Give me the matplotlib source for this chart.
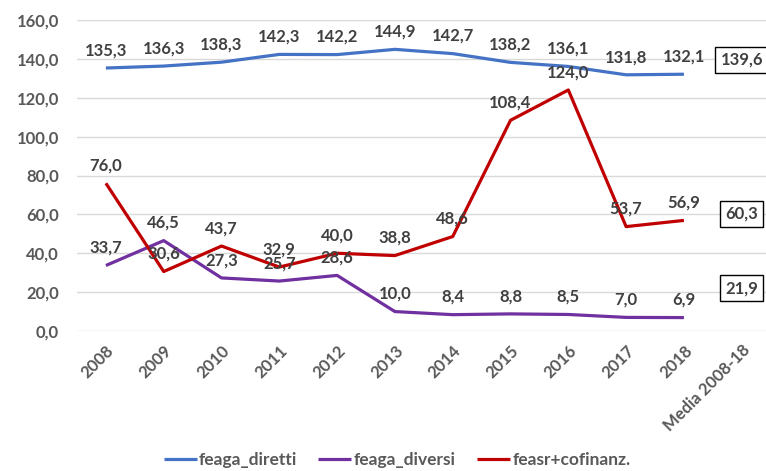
import matplotlib
matplotlib.use("Agg")
import matplotlib.pyplot as plt

categories = ["2008", "2009", "2010", "2011", "2012", "2013", "2014", "2015",
              "2016", "2017", "2018", "Media 2008-18"]
feaga_diretti = [135.3, 136.3, 138.3, 142.3, 142.2, 144.9, 142.7, 138.2, 136.1, 131.8, 132.1, 139.6]
feaga_diversi = [33.7, 46.5, 27.3, 25.7, 28.6, 10.0, 8.4, 8.8, 8.5, 7.0, 6.9, 21.9]
feasr_cofin = [76.0, 30.6, 43.7, 32.9, 40.0, 38.8, 48.6, 108.4, 124.0, 53.7, 56.9, 60.3]
series_names = ["feaga_diretti", "feaga_diversi", "feasr+cofinanz."]
yticks = [0, 20, 40, 60, 80, 100, 120, 140, 160]

plt.rcParams['font.family'] = ['Lato', 'DejaVu Sans']

def fmt(v):
    return f"{v:.1f}".replace(".", ",")

fig = plt.figure(figsize=(7.66, 4.71), dpi=100)
ax = fig.add_axes([77/766, 1-331/471, 1-77/766, (331-20)/471])

colors = ["#4472C4", "#7030A0", "#C00000"]
data = [feaga_diretti, feaga_diversi, feasr_cofin]
x = list(range(len(categories)))
n = len(categories) - 1

for vals, c, name in zip(data, colors, series_names):
    ax.plot(x[:n], vals[:n], color=c, lw=2.3, label=name, solid_capstyle='butt', zorder=3)
    for xi, v in zip(x[:n], vals[:n]):
        ax.annotate(fmt(v), (xi, v), xytext=(0, 7), textcoords='offset points',
                    ha='center', va='bottom', fontsize=12, fontweight='bold',
                    color='#404040', zorder=5)
    ax.text(x[n], vals[n], fmt(vals[n]), ha='center', va='center', fontsize=12,
            fontweight='bold', color='#404040', zorder=5,
            bbox=dict(boxstyle='square,pad=0.3', fc='white', ec='black', lw=1))

ax.set_ylim(0, 160)
ax.set_xlim(-0.5, 11.42)
ax.set_yticks(yticks)
ax.set_yticklabels([fmt(v) for v in yticks], fontsize=12, fontweight='bold', color='#595959')
ax.set_xticks(x)
ax.set_xticklabels(categories, rotation=45, ha='right', va='top', rotation_mode='anchor',
                   fontsize=12, fontweight='bold', color='#595959')
ax.tick_params(axis='both', length=0)
ax.tick_params(axis='y', pad=13)
ax.tick_params(axis='x', pad=8)
ax.grid(axis='y', color='#D9D9D9', lw=1)
ax.set_axisbelow(True)
for s in ax.spines.values():
    s.set_visible(False)

leg = fig.legend(loc='center', bbox_to_anchor=(397/766, 1-460/471), ncol=3, frameon=False,
                 handlelength=1.9, columnspacing=1.2, handletextpad=0.15,
                 prop={'size': 12.5, 'weight': 'bold'})
for t in leg.get_texts():
    t.set_color('#595959')

fig.savefig("out.png", dpi=100)
